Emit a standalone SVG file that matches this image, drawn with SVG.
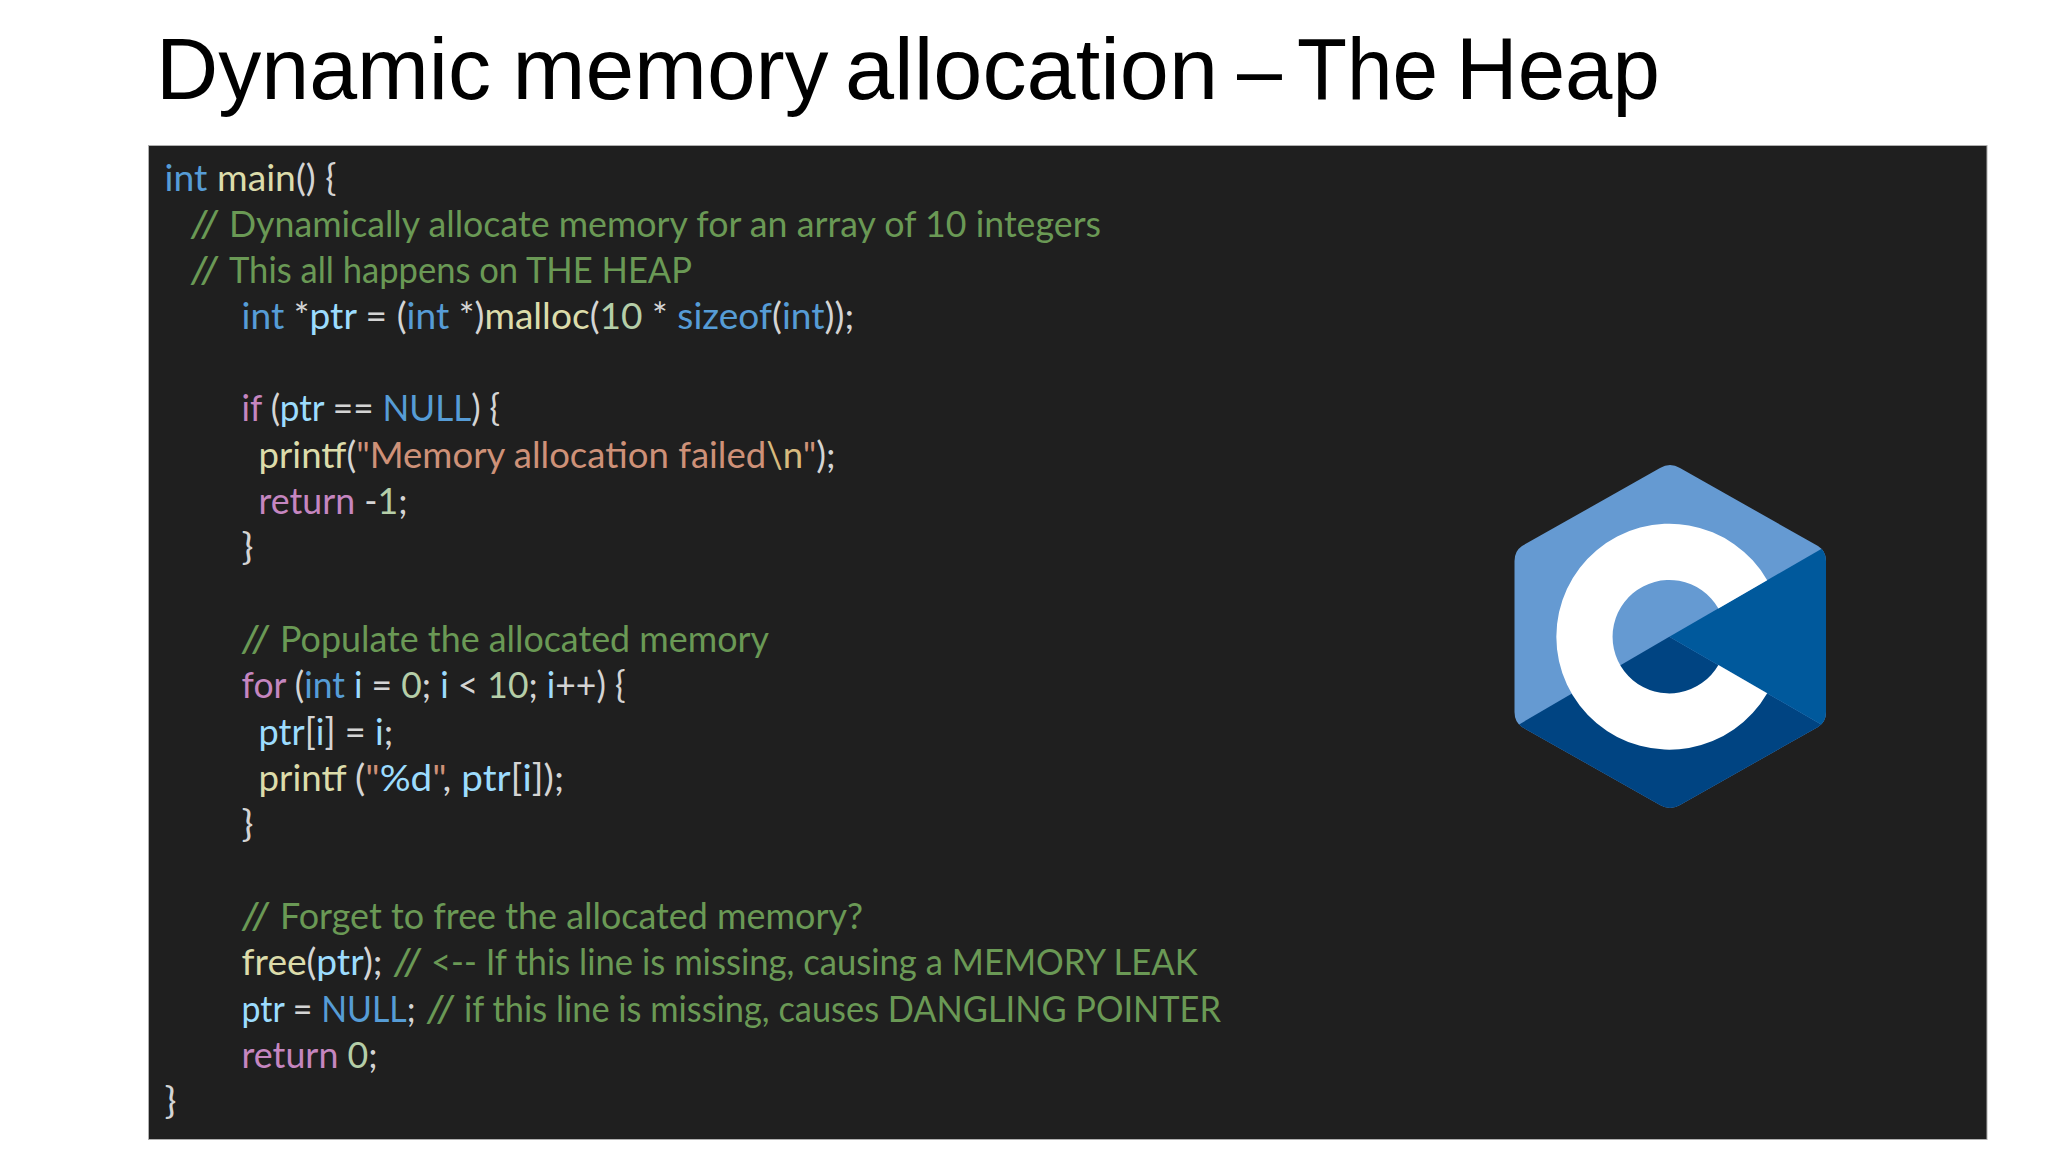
<svg xmlns="http://www.w3.org/2000/svg" width="2048" height="1152" viewBox="0 0 2048 1152">
<style>
.title{font-family:"Liberation Sans","Inter",sans-serif;font-size:87px;fill:#000}
.code{font-family:"Lato","Liberation Sans",sans-serif;font-size:36px;fill:#d4d4d4}
.k{fill:#569cd6}.f{fill:#dcdcaa}.v{fill:#9cdcfe}.c{fill:#6a9955}.s{fill:#ce9178}.p{fill:#c586c0}.n{fill:#b5cea8}.e{fill:#d7ba7d}
</style>
<defs>
<clipPath id="hex"><path d="M1660 468Q1670 462 1680 468L1818 546Q1826 551 1826 561L1826 712Q1826 722 1818 727L1680 805Q1670 811 1660 805L1522 727Q1514.500 722 1514.500 712L1514.500 561Q1514.500 551 1522 546Z"/></clipPath>
</defs>
<rect width="2048" height="1152" fill="#fff"/>
<text class="title" y="99"><tspan x="156" textLength="335" lengthAdjust="spacingAndGlyphs">Dynamic</tspan> <tspan x="512.500" textLength="316" lengthAdjust="spacingAndGlyphs">memory</tspan> <tspan x="845" textLength="373" lengthAdjust="spacingAndGlyphs">allocation</tspan> <tspan x="1237" textLength="45" lengthAdjust="spacingAndGlyphs">–</tspan> <tspan x="1297" textLength="141" lengthAdjust="spacingAndGlyphs">The</tspan> <tspan x="1456" textLength="204" lengthAdjust="spacingAndGlyphs">Heap</tspan></text>
<rect id="panel" x="148.500" y="145.500" width="1838.500" height="994" fill="#1f1f1f" stroke="#b0b0b0" stroke-width="1"/>
<g id="code" class="code">
<text x="164.600" y="190.500" textLength="172" lengthAdjust="spacingAndGlyphs"><tspan class="k">int</tspan> <tspan class="f">main</tspan>() {</text>
<text class="c" x="189" y="236.700" textLength="31" lengthAdjust="spacingAndGlyphs">//</text>
<text class="c" x="229" y="236.700" textLength="872" lengthAdjust="spacingAndGlyphs">Dynamically allocate memory for an array of 10 integers</text>
<text class="c" x="189" y="282.800" textLength="31" lengthAdjust="spacingAndGlyphs">//</text>
<text class="c" x="229" y="282.800" textLength="463" lengthAdjust="spacingAndGlyphs">This all happens on THE HEAP</text>
<text x="241.600" y="329" textLength="612.500" lengthAdjust="spacingAndGlyphs"><tspan class="k">int</tspan> *<tspan class="v">ptr</tspan> = (<tspan class="k">int</tspan> *)<tspan class="f">malloc</tspan>(<tspan class="n">10</tspan> * <tspan class="k">sizeof</tspan>(<tspan class="k">int</tspan>));</text>
<text x="241.600" y="421.400" textLength="258.600" lengthAdjust="spacingAndGlyphs"><tspan class="p">if</tspan> (<tspan class="v">ptr</tspan> == <tspan class="k">NULL</tspan>) {</text>
<text x="258.600" y="467.500" textLength="577" lengthAdjust="spacingAndGlyphs"><tspan class="f">printf</tspan>(<tspan class="s">"Memory allocation failed</tspan><tspan class="e">\n</tspan><tspan class="s">"</tspan>);</text>
<text x="258.600" y="513.700" textLength="149" lengthAdjust="spacingAndGlyphs"><tspan class="p">return</tspan> -<tspan class="n">1</tspan>;</text>
<text x="241.600" y="559.900" textLength="12" lengthAdjust="spacingAndGlyphs">}</text>
<text class="c" x="240" y="652.200" textLength="31" lengthAdjust="spacingAndGlyphs">//</text>
<text class="c" x="280" y="652.200" textLength="489" lengthAdjust="spacingAndGlyphs">Populate the allocated memory</text>
<text x="241.600" y="698.400" textLength="384" lengthAdjust="spacingAndGlyphs"><tspan class="p">for</tspan> (<tspan class="k">int</tspan> <tspan class="v">i</tspan> = <tspan class="n">0</tspan>; <tspan class="v">i</tspan> &lt; <tspan class="n">10</tspan>; <tspan class="v">i</tspan>++) {</text>
<text x="258.600" y="744.500" textLength="134.500" lengthAdjust="spacingAndGlyphs"><tspan class="v">ptr</tspan>[<tspan class="v">i</tspan>] = <tspan class="v">i</tspan>;</text>
<text class="f" x="258.600" y="790.700" textLength="88" lengthAdjust="spacingAndGlyphs">printf</text>
<text x="355" y="790.700" textLength="209" lengthAdjust="spacingAndGlyphs">(<tspan class="s">"</tspan><tspan class="v">%d</tspan><tspan class="s">"</tspan>, <tspan class="v">ptr</tspan>[<tspan class="v">i</tspan>]);</text>
<text x="241.600" y="836.900" textLength="12" lengthAdjust="spacingAndGlyphs">}</text>
<text class="c" x="240" y="929.200" textLength="31" lengthAdjust="spacingAndGlyphs">//</text>
<text class="c" x="280" y="929.200" textLength="583" lengthAdjust="spacingAndGlyphs">Forget to free the allocated memory?</text>
<text x="241.600" y="975.400" textLength="141" lengthAdjust="spacingAndGlyphs"><tspan class="f">free</tspan>(<tspan class="v">ptr</tspan>);</text>
<text class="c" x="392" y="975.400" textLength="31" lengthAdjust="spacingAndGlyphs">//</text>
<text class="c" x="431" y="975.400" textLength="766.700" lengthAdjust="spacingAndGlyphs">&lt;-- If this line is missing, causing a MEMORY LEAK</text>
<text x="241.600" y="1021.500" textLength="174" lengthAdjust="spacingAndGlyphs"><tspan class="v">ptr</tspan> = <tspan class="k">NULL</tspan>;</text>
<text class="c" x="425" y="1021.500" textLength="31" lengthAdjust="spacingAndGlyphs">//</text>
<text class="c" x="464" y="1021.500" textLength="757" lengthAdjust="spacingAndGlyphs">if this line is missing, causes DANGLING POINTER</text>
<text x="241.600" y="1067.700" textLength="136" lengthAdjust="spacingAndGlyphs"><tspan class="p">return</tspan> <tspan class="n">0</tspan>;</text>
<text x="164.600" y="1113.900" textLength="12" lengthAdjust="spacingAndGlyphs">}</text>
</g>
<g id="logo">
<g clip-path="url(#hex)">
<rect x="1500" y="450" width="340" height="370" fill="#659ad2"/>
<path d="M1669.300 636.700L1900 770V900H1400V794Z" fill="#004482"/>
<path d="M1669.300 636.700L1900 503.500V770Z" fill="#00599c"/>
</g>
<path d="M1767.200 580.200A113 113 0 1 0 1767.200 693.200L1718.400 665A56.700 56.700 0 1 1 1718.400 608.400Z" fill="#fff"/>
</g>
</svg>
